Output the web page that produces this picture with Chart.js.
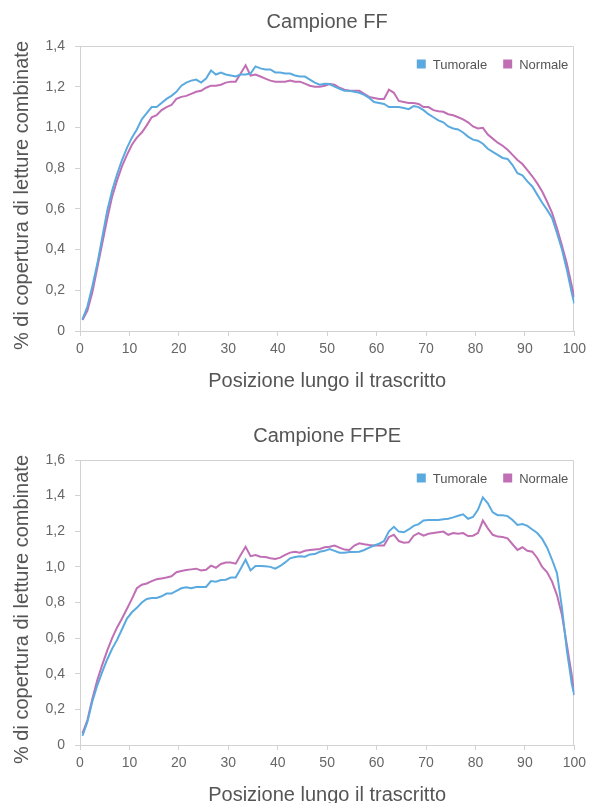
<!DOCTYPE html>
<html>
<head>
<meta charset="utf-8">
<script src="https://cdn.jsdelivr.net/npm/chart.js@4/dist/chart.umd.min.js"></script>
<style>
  html, body { margin: 0; padding: 0; background: #fff; overflow: hidden; }
  .panel { position: absolute; left: 0; width: 591px; height: 414px; }
</style>
</head>
<body>
<div class="panel" style="top:0"><canvas id="ff" width="591" height="414"></canvas></div>
<div class="panel" style="top:414px"><canvas id="ffpe" width="591" height="414"></canvas></div>
<script>
// Percentile positions along the transcript (bin centres, plus the 3' end)
const positions = [];
for (let i = 0; i < 100; i++) positions.push(i + 0.5);
positions.push(100);

// Campione FF – % coverage of combined reads
const ffTumorale = [
  0.057, 0.12, 0.22, 0.33, 0.46, 0.59, 0.69, 0.77, 0.84, 0.90,
  0.95, 0.99, 1.04, 1.07, 1.10, 1.10, 1.12, 1.14, 1.155, 1.175,
  1.205, 1.22, 1.23, 1.235, 1.22, 1.24, 1.28, 1.26, 1.27, 1.26,
  1.255, 1.25, 1.26, 1.26, 1.265, 1.30, 1.29, 1.285, 1.285, 1.27,
  1.27, 1.265, 1.265, 1.255, 1.25, 1.25, 1.235, 1.22, 1.21, 1.215,
  1.213, 1.20, 1.19, 1.18, 1.18, 1.175, 1.17, 1.16, 1.145, 1.125,
  1.12, 1.115, 1.10, 1.10, 1.10, 1.095, 1.09, 1.105, 1.10, 1.085,
  1.065, 1.05, 1.035, 1.025, 1.005, 0.995, 0.99, 0.975, 0.955, 0.94,
  0.935, 0.92, 0.895, 0.88, 0.865, 0.85, 0.845, 0.815, 0.775, 0.765,
  0.735, 0.71, 0.67, 0.63, 0.595, 0.555, 0.48, 0.40, 0.30, 0.185,
  0.135
];
const ffNormale = [
  0.054, 0.10, 0.19, 0.31, 0.43, 0.55, 0.66, 0.74, 0.81, 0.865,
  0.915, 0.95, 0.975, 1.01, 1.05, 1.06, 1.085, 1.10, 1.11, 1.14,
  1.15, 1.155, 1.165, 1.175, 1.18, 1.195, 1.205, 1.205, 1.21, 1.22,
  1.225, 1.225, 1.265, 1.305, 1.255, 1.26, 1.25, 1.24, 1.23, 1.225,
  1.225, 1.225, 1.23, 1.225, 1.225, 1.215, 1.205, 1.20, 1.20, 1.205,
  1.213, 1.21, 1.195, 1.185, 1.18, 1.18, 1.18, 1.165, 1.15, 1.145,
  1.14, 1.14, 1.185, 1.17, 1.13, 1.125, 1.12, 1.12, 1.115, 1.10,
  1.10, 1.085, 1.08, 1.077, 1.065, 1.06, 1.05, 1.04, 1.025, 1.005,
  0.995, 0.998, 0.965, 0.945, 0.925, 0.91, 0.89, 0.865, 0.84, 0.82,
  0.79, 0.76, 0.725, 0.685, 0.635, 0.58, 0.505, 0.42, 0.33, 0.22,
  0.165
];

// Campione FFPE
const ffpeTumorale = [
  0.052, 0.13, 0.245, 0.335, 0.41, 0.48, 0.54, 0.59, 0.65, 0.71,
  0.745, 0.77, 0.80, 0.82, 0.825, 0.825, 0.835, 0.85, 0.85, 0.865,
  0.88, 0.885, 0.88, 0.887, 0.887, 0.887, 0.92, 0.917, 0.926, 0.928,
  0.94, 0.94, 0.99, 1.04, 0.98, 1.005, 1.005, 1.003, 1.00, 0.99,
  1.005, 1.025, 1.048, 1.055, 1.06, 1.057, 1.07, 1.072, 1.085, 1.09,
  1.10, 1.09, 1.08, 1.08, 1.083, 1.083, 1.085, 1.095, 1.108, 1.12,
  1.13, 1.145, 1.20, 1.225, 1.198, 1.194, 1.21, 1.23, 1.24, 1.26,
  1.263, 1.263, 1.263, 1.267, 1.27, 1.278, 1.287, 1.295, 1.27, 1.28,
  1.32, 1.39, 1.357, 1.306, 1.29, 1.29, 1.285, 1.263, 1.235, 1.24,
  1.23, 1.21, 1.19, 1.157, 1.108, 1.04, 0.964, 0.77, 0.53, 0.34,
  0.28
];
const ffpeNormale = [
  0.065, 0.14, 0.26, 0.365, 0.45, 0.53, 0.60, 0.66, 0.71, 0.765,
  0.82, 0.88, 0.90, 0.907, 0.92, 0.93, 0.935, 0.94, 0.947, 0.97,
  0.977, 0.982, 0.986, 0.99, 0.98, 0.984, 1.007, 0.995, 1.016, 1.024,
  1.025, 1.018, 1.067, 1.113, 1.06, 1.067, 1.057, 1.055, 1.048, 1.044,
  1.052, 1.067, 1.08, 1.085, 1.08, 1.09, 1.095, 1.098, 1.10, 1.11,
  1.113, 1.12, 1.108, 1.097, 1.095, 1.12, 1.132, 1.127, 1.123, 1.12,
  1.12, 1.12, 1.168, 1.18, 1.145, 1.136, 1.138, 1.175, 1.19, 1.175,
  1.186, 1.19, 1.194, 1.198, 1.18, 1.19, 1.186, 1.19, 1.173, 1.175,
  1.19, 1.26, 1.216, 1.18, 1.17, 1.168, 1.16, 1.127, 1.095, 1.11,
  1.09, 1.085, 1.05, 1.00, 0.97, 0.917, 0.84, 0.73, 0.56, 0.39,
  0.28
];

// Axis ticks
const xTicks = [0, 10, 20, 30, 40, 50, 60, 70, 80, 90, 100];
const xTickLabels = ['0', '10', '20', '30', '40', '50', '60', '70', '80', '90', '100'];
const yTicksFF = [0, 0.2, 0.4, 0.6, 0.8, 1.0, 1.2, 1.4];
const yTickLabelsFF = ['0', '0,2', '0,4', '0,6', '0,8', '1,0', '1,2', '1,4'];
const yTicksFFPE = [0, 0.2, 0.4, 0.6, 0.8, 1.0, 1.2, 1.4, 1.6];
const yTickLabelsFFPE = ['0', '0,2', '0,4', '0,6', '0,8', '1,0', '1,2', '1,4', '1,6'];

const seriesNames = ['Tumorale', 'Normale'];
const seriesColors = ['#5aaae0', '#c16fb4'];
const xAxisTitle = 'Posizione lungo il trascritto';
const yAxisTitle = '% di copertura di letture combinate';

const FONT = "'Liberation Sans', Arial, Helvetica, sans-serif";
const TEXT = '#555';
const TICK = '#666';
const FRAME = '#d2d2d2';

// Panel heading, y-axis title, top/right frame edges and an in-plot legend
const framePlugin = {
  id: 'frame',
  beforeDatasetsDraw(chart) {
    const { ctx, chartArea: a } = chart;
    ctx.save();
    ctx.strokeStyle = FRAME;
    ctx.lineWidth = 1;
    ctx.beginPath();
    const t = Math.round(a.top) + 0.5, r = Math.round(a.right) - 0.5;
    ctx.moveTo(Math.round(a.left), t);
    ctx.lineTo(r, t);
    ctx.lineTo(r, Math.round(a.bottom));
    ctx.stroke();
    ctx.restore();
  },
  afterDraw(chart, args, opts) {
    const { ctx, chartArea: a } = chart;
    ctx.save();
    ctx.fillStyle = TEXT;
    ctx.font = '20px ' + FONT;
    ctx.textAlign = 'center';
    ctx.textBaseline = 'middle';
    ctx.fillText(opts.text, (a.left + a.right) / 2, 22);

    // y-axis title, rotated
    ctx.save();
    ctx.translate(22, (a.top + a.bottom) / 2 + 7);
    ctx.rotate(-Math.PI / 2);
    ctx.fillText(yAxisTitle, 0, 0);
    ctx.restore();

    // legend, laid out from the right edge
    ctx.font = '13px ' + FONT;
    ctx.textAlign = 'left';
    const cy = a.top + 18;
    const box = 9, gap = 7, spacing = 16;
    let x = a.right - 6;
    for (let k = seriesNames.length - 1; k >= 0; k--) {
      const w = ctx.measureText(seriesNames[k]).width;
      const tx = x - w;
      ctx.fillStyle = TEXT;
      ctx.fillText(seriesNames[k], tx, cy + 1);
      const bx = tx - gap - box;
      ctx.fillStyle = seriesColors[k];
      ctx.fillRect(bx, cy - box / 2, box, box);
      x = bx - spacing;
    }
    ctx.restore();
  }
};

function pairs(values) {
  return values.map((v, i) => ({ x: positions[i], y: v }));
}

function makeChart(id, heading, tumorale, normale, yMax, yTicks, yLabels) {
  const series = [tumorale, normale];
  return new Chart(document.getElementById(id), {
    type: 'line',
    data: {
      datasets: series.map((vals, k) => ({
        label: seriesNames[k],
        data: pairs(vals),
        borderColor: seriesColors[k],
        backgroundColor: seriesColors[k],
        borderWidth: 2,
        pointRadius: 0,
        tension: 0,
        fill: false
      }))
    },
    plugins: [framePlugin],
    options: {
      responsive: false,
      animation: false,
      devicePixelRatio: 1,
      layout: { padding: { top: 46, right: 16, left: 0, bottom: 0 } },
      plugins: {
        frame: { text: heading },
        title: { display: false },
        tooltip: { enabled: false },
        legend: { display: false }
      },
      scales: {
        x: {
          type: 'linear',
          min: 0,
          max: 100,
          afterBuildTicks: s => { s.ticks = xTicks.map(v => ({ value: v })); },
          afterFit: s => { s.height = 83; },
          ticks: {
            autoSkip: false,
            maxRotation: 0,
            padding: 5,
            color: TICK,
            font: { size: 14, family: FONT },
            callback: (v, i) => xTickLabels[i]
          },
          grid: { drawOnChartArea: false, tickLength: 5, color: FRAME },
          border: { color: FRAME },
          title: {
            display: true,
            text: xAxisTitle,
            color: TEXT,
            font: { size: 20, family: FONT },
            padding: { top: 0, bottom: 21 }
          }
        },
        y: {
          min: 0,
          max: yMax,
          afterBuildTicks: s => { s.ticks = yTicks.map(v => ({ value: v })); },
          afterFit: s => { s.width = 80; },
          ticks: {
            padding: 10,
            color: TICK,
            font: { size: 14, family: FONT },
            callback: (v, i) => yLabels[i]
          },
          grid: { drawOnChartArea: false, tickLength: 5, color: FRAME },
          border: { color: FRAME },
          title: { display: false }
        }
      }
    }
  });
}

makeChart('ff', 'Campione FF', ffTumorale, ffNormale, 1.4, yTicksFF, yTickLabelsFF);
makeChart('ffpe', 'Campione FFPE', ffpeTumorale, ffpeNormale, 1.6, yTicksFFPE, yTickLabelsFFPE);
</script>
</body>
</html>
